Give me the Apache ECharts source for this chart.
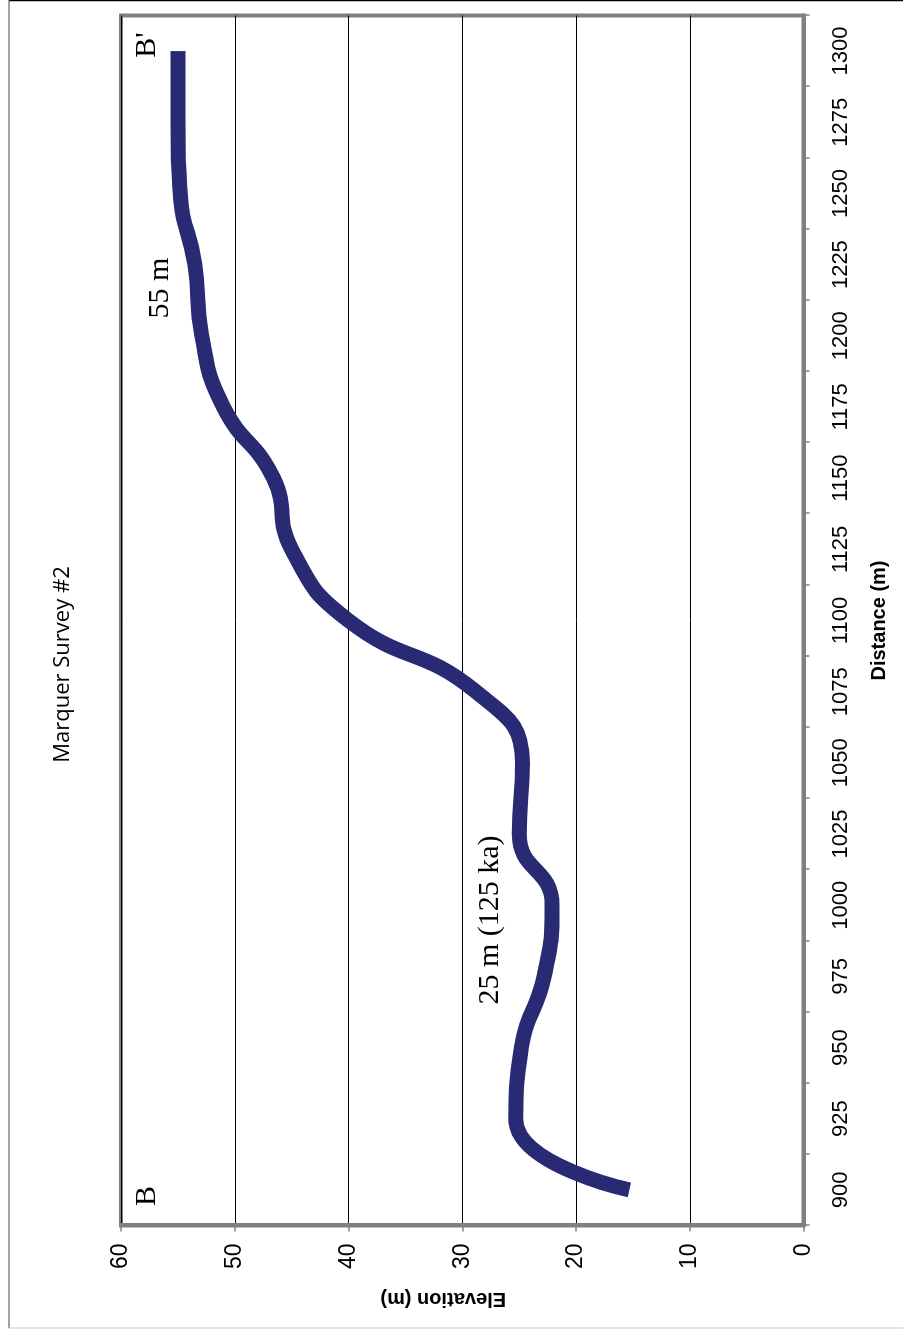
<!DOCTYPE html>
<html>
<head>
<meta charset="utf-8">
<title>Marquer Survey #2</title>
<script src="https://cdn.jsdelivr.net/npm/echarts@6/dist/echarts.min.js"></script>
<style>
  html, body { margin: 0; padding: 0; background: #fff; }
  body { width: 903px; height: 1329px; position: relative; overflow: hidden; }
  /* the chart is drawn upright and turned a quarter turn, like the printed figure */
  #chart {
    position: absolute; left: 0; top: 1329px;
    width: 1329px; height: 903px;
    transform-origin: 0 0;
    transform: rotate(-90deg);
  }
</style>
</head>
<body>
<div id="chart"></div>
<script>
// distance along profile (m) - category labels
const distances = ['900', '925', '950', '975', '1000', '1025', '1050', '1075', '1100',
  '1125', '1150', '1175', '1200', '1225', '1250', '1275', '1300'];
// elevation (m)
const elevations = [15.3, 25.3, 24.8, 22.8, 22.1, 25, 24.7, 28.8, 40,
  45, 46.6, 51, 52.9, 53.5, 54.8, 55, 55];
const elevTicks = [0, 10, 20, 30, 40, 50, 60];

const chart = echarts.init(document.getElementById('chart'));

const sans = 'Liberation Sans, Arial, sans-serif';
const serif = 'Liberation Serif, Times New Roman, serif';

const option = {
  backgroundColor: '#fff',
  animation: false,
  title: {
    text: 'Marquer Survey #2',
    left: 'center',
    top: 47,
    textStyle: { fontFamily: 'Open Sans, sans-serif', fontWeight: 'normal', fontSize: 22, color: '#000' }
  },
  grid: {
    left: 103.5,
    right: 15.5,
    top: 121,
    bottom: 99.5,
    show: true,
    borderColor: '#808080',
    borderWidth: 4,
    backgroundColor: '#fff'
  },
  xAxis: {
    type: 'category',
    data: distances,
    boundaryGap: true,
    name: 'Distance (m)',
    nameLocation: 'middle',
    nameGap: 66,
    nameTextStyle: { fontFamily: sans, fontWeight: 'bold', fontSize: 20, color: '#000' },
    axisLine: { lineStyle: { color: '#808080', width: 4 } },
    axisTick: { show: true, length: 6, lineStyle: { color: '#808080', width: 1.5 } },
    axisLabel: { margin: 26, fontFamily: sans, fontSize: 22, color: '#000', interval: 0 },
    splitLine: { show: false }
  },
  yAxis: {
    type: 'value',
    min: elevTicks[0],
    max: elevTicks[elevTicks.length - 1],
    interval: 10,
    name: 'Elevation (m)',
    nameLocation: 'middle',
    nameGap: 63,
    nameTextStyle: { fontFamily: sans, fontWeight: 'bold', fontSize: 20, color: '#000', padding: [0, 0, 0, 38] },
    axisLine: { show: true, lineStyle: { color: '#808080', width: 4 } },
    axisTick: { show: true, length: 6, lineStyle: { color: '#808080', width: 1.5 } },
    axisLabel: { margin: 18, fontFamily: sans, fontSize: 23, color: '#000' },
    splitLine: { show: true, lineStyle: { color: '#000', width: 1 } }
  },
  series: [
    {
      type: 'line',
      data: elevations,
      smooth: 0.5,
      symbol: 'none',
      lineStyle: { color: '#282a74', width: 15, cap: 'butt', join: 'round' },
      z: 3
    }
  ],
  graphic: [
    // outer frame of the figure
    { type: 'line', shape: { x1: 1328.5, y1: 9, x2: 1328.5, y2: 903 }, style: { stroke: '#000', lineWidth: 1.5 } },
    { type: 'line', shape: { x1: 1, y1: 9, x2: 1329, y2: 9 }, style: { stroke: '#444', lineWidth: 1 } },
    { type: 'line', shape: { x1: 1, y1: 9, x2: 1, y2: 903 }, style: { stroke: '#c8c8c8', lineWidth: 1 } },
    // profile annotations
    { type: 'text', x: 133, y: 147, z: 10,
      style: { text: 'B', font: '30px ' + serif, fill: '#000', textAlign: 'center', textVerticalAlign: 'middle' } },
    { type: 'text', x: 1284, y: 147, z: 10,
      style: { text: "B'", font: '30px ' + serif, fill: '#000', textAlign: 'center', textVerticalAlign: 'middle' } },
    { type: 'text', x: 1041, y: 160, z: 10,
      style: { text: '55 m', font: '30px ' + serif, fill: '#000', textAlign: 'center', textVerticalAlign: 'middle' } },
    { type: 'text', x: 409, y: 490, z: 10,
      style: { text: '25 m (125 ka)', font: '30px ' + serif, fill: '#000', textAlign: 'center', textVerticalAlign: 'middle' } }
  ]
};

chart.setOption(option);
</script>
</body>
</html>
